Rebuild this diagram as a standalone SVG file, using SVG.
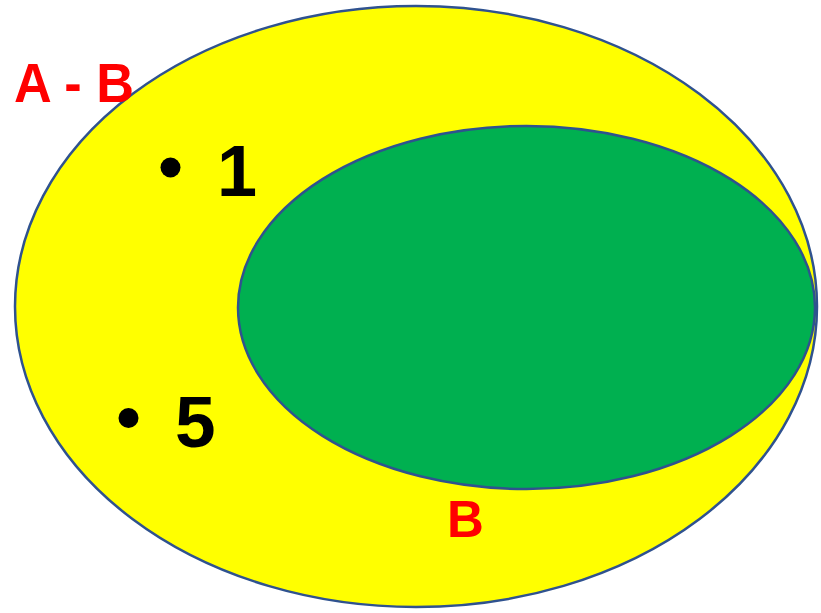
<svg xmlns="http://www.w3.org/2000/svg" width="821" height="613" viewBox="0 0 821 613">
<style>
.set{stroke:#2F528F;stroke-width:2.5}
.red{fill:#FF0000;font-family:"Liberation Sans",Arial,sans-serif;font-weight:bold}
.num{fill:#000;font-family:"Liberation Sans",Arial,sans-serif;font-weight:bold}
</style>
<rect width="821" height="613" fill="#fff"/>
<g id="setA"><ellipse class="set" cx="416" cy="306.5" rx="401" ry="300.5" fill="#FFFF00"/></g>
<g id="setB"><ellipse class="set" cx="526.5" cy="307.5" rx="288.5" ry="181.5" fill="#00B050"/></g>
<g id="label-AminusB"><text class="red" x="14" y="102" font-size="55" textLength="120" lengthAdjust="spacingAndGlyphs">A - B</text></g>
<g id="element-1"><circle cx="170.5" cy="167.5" r="10"/><text class="num" x="217" y="196" font-size="72">1</text></g>
<g id="element-5"><circle cx="128.5" cy="418" r="10"/><text class="num" x="175" y="447" font-size="73">5</text></g>
<g id="label-B"><text class="red" x="447" y="537" font-size="51">B</text></g>
</svg>
